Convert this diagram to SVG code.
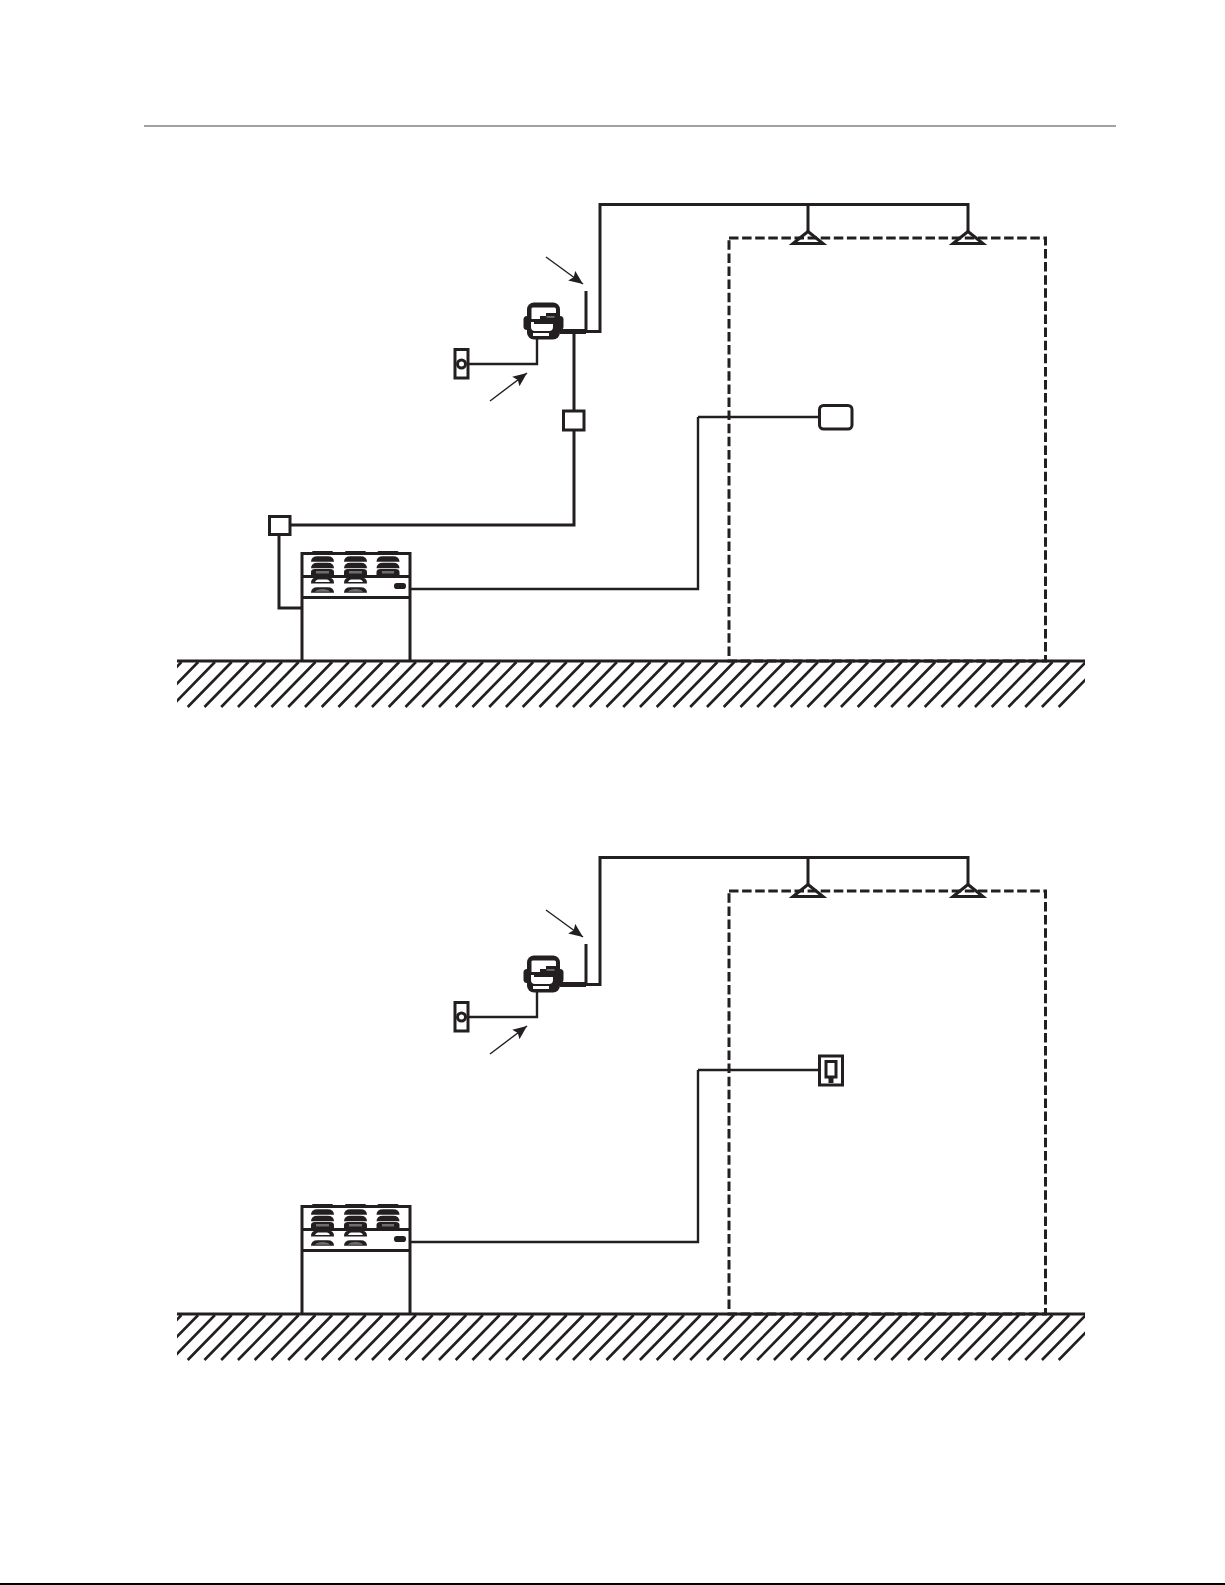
<svg xmlns="http://www.w3.org/2000/svg" xmlns:xlink="http://www.w3.org/1999/xlink" width="1225" height="1585" viewBox="0 0 1225 1585">
<style>
.s{fill:none;stroke:#231f20;stroke-width:3}
.w{fill:#fff;stroke:#231f20;stroke-width:3}
.t{fill:none;stroke:#231f20;stroke-width:2.4}
.k{fill:#231f20;stroke:none}
.g{fill:#6d6e70;stroke:none}
.wf{fill:#fff;stroke:none}
.lead{fill:none;stroke:#231f20;stroke-width:1.4;marker-end:url(#arrow)}
.hatch{fill:none;stroke:#231f20;stroke-width:2.6}
.dash{fill:none;stroke:#231f20;stroke-width:3;stroke-dasharray:9.5 3.6}
</style>
<defs>
<marker id="arrow" markerUnits="userSpaceOnUse" markerWidth="15" markerHeight="13" refX="14" refY="6" orient="auto"><path d="M0 0L14 6L0 12L2.500 6Z" fill="#231f20"/></marker>
<clipPath id="hc"><rect x="177" y="661" width="908" height="47"/></clipPath>
<path id="dome" d="M-11.500 2.800Q-11.500 -2.800 -5 -2.800H5Q11.500 -2.800 11.500 2.800Z"/>
<g id="ground">
<g clip-path="url(#hc)"><path class="hatch" d="M137.45 707l44-45m-27.25 45l44-45m-27.25 45l44-45m-27.25 45l44-45m-27.25 45l44-45m-27.25 45l44-45m-27.25 45l44-45m-27.25 45l44-45m-27.25 45l44-45m-27.25 45l44-45m-27.25 45l44-45m-27.25 45l44-45m-27.25 45l44-45m-27.25 45l44-45m-27.25 45l44-45m-27.25 45l44-45m-27.25 45l44-45m-27.25 45l44-45m-27.25 45l44-45m-27.25 45l44-45m-27.25 45l44-45m-27.25 45l44-45m-27.25 45l44-45m-27.25 45l44-45m-27.25 45l44-45m-27.25 45l44-45m-27.25 45l44-45m-27.25 45l44-45m-27.25 45l44-45m-27.25 45l44-45m-27.25 45l44-45m-27.25 45l44-45m-27.25 45l44-45m-27.25 45l44-45m-27.25 45l44-45m-27.25 45l44-45m-27.25 45l44-45m-27.25 45l44-45m-27.25 45l44-45m-27.25 45l44-45m-27.25 45l44-45m-27.25 45l44-45m-27.25 45l44-45m-27.25 45l44-45m-27.25 45l44-45m-27.25 45l44-45m-27.25 45l44-45m-27.25 45l44-45m-27.25 45l44-45m-27.25 45l44-45m-27.25 45l44-45m-27.25 45l44-45m-27.25 45l44-45m-27.25 45l44-45m-27.25 45l44-45m-27.25 45l44-45"/></g>
<path class="s" d="M177 661H1085"/>
</g>
<g id="ahu">
<path class="s" d="M302 661V553.500H410V661M302 576.500H410M302 597.500H410"/>
<g class="k">
<rect x="312" y="551" width="21" height="2.500" rx="1.200"/><rect x="345" y="551" width="21" height="2.500" rx="1.200"/><rect x="377.500" y="551" width="21" height="2.500" rx="1.200"/>
<use xlink:href="#dome" x="322.500" y="559"/><use xlink:href="#dome" x="355.500" y="559"/><use xlink:href="#dome" x="388" y="559"/>
<use xlink:href="#dome" x="322.500" y="565.500"/><use xlink:href="#dome" x="355.500" y="565.500"/><use xlink:href="#dome" x="388" y="565.500"/>
<path d="M311 577V572Q311 569 315 569H330Q334 569 334 572V577Z"/><path d="M344 577V572Q344 569 348 569H363Q367 569 367 572V577Z"/><path d="M376.500 577V572Q376.500 569 380.500 569H395.500Q399.500 569 399.500 572V577Z"/>
<path d="M311 583.500Q311 578 315 578H330Q334 578 334 583.500Z"/><path d="M344 583.500Q344 578 348 578H363Q367 578 367 583.500Z"/>
<use xlink:href="#dome" x="322.500" y="590"/><use xlink:href="#dome" x="355.500" y="590"/>
<rect x="394" y="583" width="12" height="6" rx="2.800"/>
</g>
<g class="g"><rect x="316" y="571" width="13" height="2.500"/><rect x="349" y="571" width="13" height="2.500"/><rect x="382" y="571" width="12" height="2.500"/><path d="M315 591.800Q317 589 322.500 589Q328 589 330 591.800Z"/><path d="M348 591.800Q350 589 355.500 589Q361 589 363 591.800Z"/></g>
<g class="wf"><path d="M315 582Q316 579.500 318 579.500H327Q329 579.500 330 582Z"/><path d="M348 582Q349 579.500 351 579.500H360Q362 579.500 363 582Z"/></g>
</g>
<g id="device">
<rect class="k" x="527" y="302.500" width="33" height="37" rx="7"/>
<rect class="k" x="523.500" y="316" width="40" height="14" rx="3.500"/>
<path class="wf" d="M531.500 308.500Q531.500 307.500 533 307.500H554.500Q556 307.500 556 309V313H546V316H540V319H531.500Z"/>
<rect class="g" x="546.500" y="316" width="8" height="1.800"/>
<path class="wf" d="M531 322H534V324H553V327Q553 331 549 331H535Q531 331 531 327Z"/>
<rect class="wf" x="533" y="333" width="16" height="3"/>
</g>
<g id="switch"><rect class="w" x="455" y="349.500" width="13" height="28.500"/><circle class="w" cx="461.500" cy="364" r="4"/></g>
<g id="diffuser"><path class="s" d="M0 -6.500L-15 5.500H15Z"/></g>
<g id="common-wiring">
<path class="s" d="M586 331V291"/>
<path class="s" d="M560 331.500H600V204.500H968V231M808 204.500V231"/>
<path class="k" d="M560 329H586V334H560Z"/>
<path class="t" d="M468 364H537V339"/>
<path class="t" d="M410 589H698V417"/>
<path class="lead" d="M546 257L583 284"/>
<path class="lead" d="M490 401L527 373"/>
</g>
</defs>

<path id="top-rule" fill="none" stroke="#808285" stroke-width="1.500" d="M144 126H1116"/>
<path id="bottom-rule" fill="none" stroke="#000" stroke-width="2" d="M0 1584H1225"/>

<g id="connectors-upper">
<use xlink:href="#common-wiring"/>
<path class="t" d="M698 417H819"/>
<path class="s" d="M574 331V411M574 430V525H290M279 534V608H302"/>
</g>
<g id="connectors-lower" transform="translate(0 653)">
<use xlink:href="#common-wiring"/>
<path class="t" d="M698 417H819"/>
</g>

<g id="ground-upper"><use xlink:href="#ground"/></g>
<g id="ground-lower"><use xlink:href="#ground" y="653"/></g>
<g id="room-upper"><rect class="dash" x="729" y="238" width="316.500" height="423"/></g>
<g id="room-lower"><rect class="dash" x="729" y="891" width="316.500" height="423"/></g>
<g id="ahu-upper"><use xlink:href="#ahu"/></g>
<g id="ahu-lower"><use xlink:href="#ahu" y="653"/></g>
<g id="device-upper"><use xlink:href="#device"/></g>
<g id="device-lower"><use xlink:href="#device" y="653"/></g>
<g id="switch-upper"><use xlink:href="#switch"/></g>
<g id="switch-lower"><use xlink:href="#switch" y="653"/></g>
<g id="diffuser-upper-1"><use xlink:href="#diffuser" x="808" y="238"/></g>
<g id="diffuser-upper-2"><use xlink:href="#diffuser" x="968" y="238"/></g>
<g id="diffuser-lower-1"><use xlink:href="#diffuser" x="808" y="891"/></g>
<g id="diffuser-lower-2"><use xlink:href="#diffuser" x="968" y="891"/></g>
<g id="junction-box-1"><rect class="w" x="563.500" y="411" width="20.500" height="19"/></g>
<g id="junction-box-2"><rect class="w" x="269.500" y="516.500" width="20.500" height="18"/></g>
<g id="sensor-box"><rect class="w" x="819.500" y="405.500" width="32.500" height="23.500" rx="4"/></g>
<g id="thermostat"><rect class="w" x="819.500" y="1056" width="23" height="29"/><rect class="s" x="826" y="1061.500" width="10" height="15.500"/><path class="k" d="M828.500 1077H833.500V1083H828.500Z"/></g>
</svg>
